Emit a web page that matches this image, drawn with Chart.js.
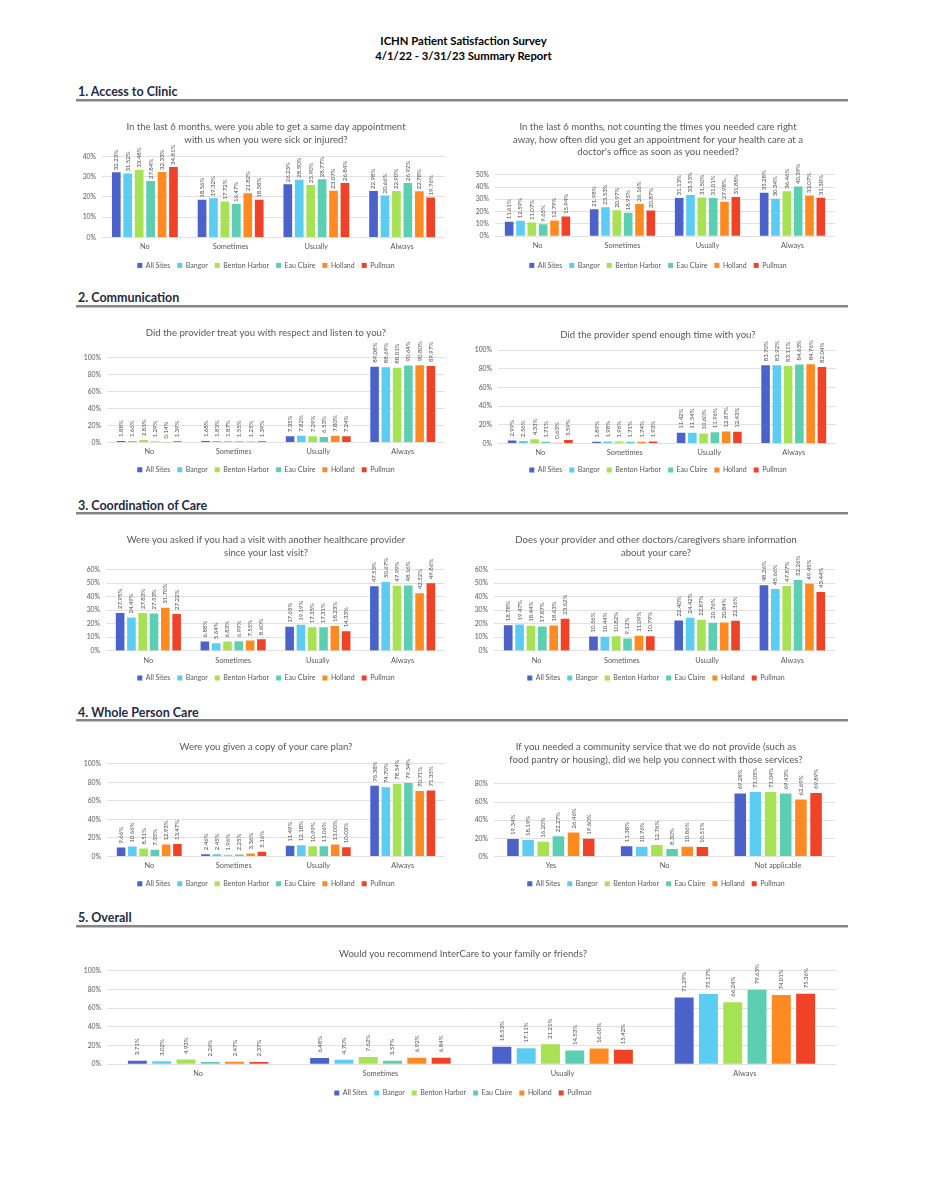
<!DOCTYPE html>
<html>
<head>
<meta charset="utf-8">
<title>ICHN Patient Satisfaction Survey</title>
<script src="https://cdn.jsdelivr.net/npm/chart.js@4.4.0/dist/chart.umd.min.js"></script>
<style>
body { margin: 0; background: #fff; font-family: Lato, "Open Sans", sans-serif; }
#page { position: relative; width: 927px; height: 1200px; overflow: hidden; }
.hdr { position: absolute; left: 0; width: 927px; text-align: center; font-weight: bold; font-size: 11.3px; line-height: 14px; color: #000; }
.sec { position: absolute; left: 78px; font-weight: bold; font-size: 12.5px; line-height: 16px; color: #1f2a44; }
.rule { position: absolute; left: 76px; width: 772px; height: 2px; background: #858585; border-bottom: 1px solid #c4c4c4; }
.box { position: absolute; }
</style>
</head>
<body>
<div id="page">
  <div class="hdr" style="top:34px">ICHN Patient Satisfaction Survey</div>
  <div class="hdr" style="top:49px">4/1/22 - 3/31/23 Summary Report</div>

  <div class="sec" style="top:84px">1. Access to Clinic</div>
  <div class="rule" style="top:99px"></div>
  <div class="sec" style="top:290px">2. Communication</div>
  <div class="rule" style="top:305px"></div>
  <div class="sec" style="top:498px">3. Coordination of Care</div>
  <div class="rule" style="top:512px"></div>
  <div class="sec" style="top:705px">4. Whole Person Care</div>
  <div class="rule" style="top:719px"></div>
  <div class="sec" style="top:910px">5. Overall</div>
  <div class="rule" style="top:925px"></div>
</div>
<script>
// sites and colours
const sites = ['All Sites', 'Bangor', 'Benton Harbor', 'Eau Claire', 'Holland', 'Pullman'];
const siteColors = ['#4a62c9', '#5bcdf2', '#a7e254', '#5ccfb2', '#ff8a22', '#ef4226'];

const freqCats = ['No', 'Sometimes', 'Usually', 'Always'];
const serviceCats = ['Yes', 'No', 'Not applicable'];

// values in %, one row per site, one column per category
const sameDayVals = [
  [32.23, 18.56, 26.23, 22.98],
  [31.52, 19.32, 28.50, 20.66],
  [33.48, 17.72, 25.90, 22.90],
  [27.84, 16.47, 28.77, 26.92],
  [32.33, 21.82, 23.07, 22.78],
  [34.81, 18.58, 26.84, 19.76]
];
const routineVals = [
  [11.61, 21.98, 31.13, 35.28],
  [12.59, 23.53, 33.53, 30.34],
  [11.07, 20.97, 31.50, 36.46],
  [9.65, 18.95, 31.01, 40.39],
  [12.79, 26.16, 27.98, 33.07],
  [15.94, 20.87, 31.88, 31.30]
];
const respectVals = [
  [1.88, 1.68, 7.35, 89.08],
  [1.66, 1.83, 7.82, 88.69],
  [2.83, 1.87, 7.29, 88.01],
  [1.29, 1.55, 6.53, 90.64],
  [0.14, 1.25, 7.80, 90.80],
  [1.39, 1.39, 7.24, 89.97]
];
const timeVals = [
  [2.99, 1.89, 11.42, 83.70],
  [2.56, 1.98, 11.54, 83.92],
  [4.33, 1.96, 10.60, 83.11],
  [1.71, 1.71, 11.96, 84.63],
  [0.63, 1.74, 12.87, 84.76],
  [3.59, 1.93, 12.43, 82.04]
];
const otherVisitVals = [
  [27.95, 6.88, 17.65, 47.53],
  [24.49, 5.64, 19.19, 50.67],
  [27.83, 6.83, 17.35, 47.99],
  [27.53, 6.99, 17.31, 48.16],
  [31.70, 7.55, 18.23, 42.52],
  [27.22, 8.60, 14.33, 49.86]
];
const shareInfoVals = [
  [18.78, 10.56, 22.40, 48.26],
  [19.47, 10.44, 24.42, 45.66],
  [18.44, 10.82, 22.87, 47.87],
  [17.87, 9.12, 20.76, 52.26],
  [18.63, 11.09, 20.84, 49.45],
  [23.62, 10.79, 22.16, 43.44]
];
const carePlanVals = [
  [9.66, 2.46, 11.49, 76.38],
  [10.66, 2.45, 12.18, 74.70],
  [8.51, 1.96, 10.99, 78.54],
  [7.35, 2.25, 11.06, 79.34],
  [12.93, 3.36, 13.00, 70.71],
  [13.47, 5.16, 10.03, 71.35]
];
const serviceVals = [
  [19.34, 11.38, 69.28],
  [18.19, 10.76, 71.05],
  [16.20, 12.76, 71.04],
  [22.27, 8.30, 69.43],
  [26.46, 10.86, 62.69],
  [19.60, 10.51, 69.89]
];
const recommendVals = [
  [3.71, 6.48, 18.53, 71.29],
  [3.02, 4.70, 17.11, 75.17],
  [4.93, 7.62, 21.21, 66.24],
  [2.26, 3.57, 14.53, 79.63],
  [2.47, 6.92, 16.60, 74.01],
  [2.37, 6.84, 15.42, 75.36]
];

// rotated value labels above each bar
const barLabels = {
  id: 'barLabels',
  afterDatasetsDraw(chart, args, opts) {
    const ctx = chart.ctx;
    ctx.save();
    ctx.font = opts.size + 'px Lato';
    ctx.fillStyle = '#4d4d4d';
    ctx.textAlign = 'left';
    ctx.textBaseline = 'middle';
    chart.data.datasets.forEach((ds, i) => {
      chart.getDatasetMeta(i).data.forEach((bar, j) => {
        ctx.save();
        ctx.translate(bar.x, bar.y - opts.gap);
        ctx.rotate(-Math.PI / 2);
        ctx.fillText(ds.data[j].toFixed(2) + '%', 0, 0);
        ctx.restore();
      });
    });
    ctx.restore();
  }
};

const TITLE_SIZE = 9.6, TITLE_LH = 1.28;
const LEG_SIZE = 7, LEG_PAD = 7;

function buildChart(spec) {
  const lineH = TITLE_SIZE * TITLE_LH;
  const cTop = spec.titleY - lineH / 2 - 6;
  const cBottom = spec.legendY + 11 + LEG_SIZE / 2;
  const cLeft = spec.l - 30;
  const cRight = 2 * spec.cx - cLeft;   // keeps title and legend centred on cx
  const legendTop = cBottom - (LEG_SIZE + LEG_PAD + 10);

  const box = document.createElement('div');
  box.className = 'box';
  box.style.left = cLeft + 'px';
  box.style.top = cTop + 'px';
  box.style.width = (cRight - cLeft) + 'px';
  box.style.height = (cBottom - cTop) + 'px';
  const cv = document.createElement('canvas');
  box.appendChild(cv);
  document.getElementById('page').appendChild(box);

  new Chart(cv, {
    type: 'bar',
    data: {
      labels: spec.cats,
      datasets: sites.map((s, i) => ({
        label: s,
        data: spec.vals[i],
        backgroundColor: siteColors[i],
        borderWidth: 0
      }))
    },
    options: {
      responsive: true,
      maintainAspectRatio: false,
      animation: false,
      layout: { padding: 0 },
      datasets: { bar: { categoryPercentage: 0.8, barPercentage: spec.bp || 0.76 } },
      scales: {
        x: {
          grid: { display: false, drawTicks: false },
          border: { display: false },
          ticks: { color: '#595959', font: { family: 'Lato', size: 7.4 }, padding: 5, maxRotation: 0, autoSkip: false },
          afterFit: a => { a.height = legendTop - spec.b; }
        },
        y: {
          min: 0,
          max: spec.max,
          grid: { color: '#d9d9d9', lineWidth: 0.8, drawTicks: false },
          border: { display: false },
          ticks: { stepSize: spec.step, color: '#595959', font: { family: 'Lato', size: 6.8 }, padding: 6, callback: v => v + '%' },
          afterFit: a => { a.width = spec.l - cLeft; }
        },
        // empty right-hand spacer so the plot ends where the original does
        spacer: {
          type: 'linear',
          position: 'right',
          grid: { display: false, drawTicks: false },
          border: { display: false },
          ticks: { display: false },
          afterFit: a => { a.width = cRight - spec.r; }
        }
      },
      plugins: {
        title: {
          display: true,
          text: spec.title,
          color: '#595959',
          font: { family: 'Lato', size: TITLE_SIZE, lineHeight: TITLE_LH, weight: 'normal' },
          padding: { top: 6, bottom: spec.t - (cTop + 6 + spec.title.length * lineH) }
        },
        legend: {
          position: 'bottom',
          labels: { boxWidth: 5, boxHeight: 5, padding: LEG_PAD, color: '#595959', font: { family: 'Lato', size: LEG_SIZE } }
        },
        tooltip: { enabled: false },
        barLabels: { size: 6, gap: spec.gap }
      }
    },
    plugins: [barLabels]
  });
}

buildChart({
  title: ['In the last 6 months, were you able to get a same day appointment', 'with us when you were sick or injured?'],
  cats: freqCats, vals: sameDayVals, max: 40, step: 10,
  l: 102, r: 445, t: 156, b: 237, titleY: 126.7, legendY: 264, cx: 266, gap: 2
});
buildChart({
  title: ['In the last 6 months, not counting the times you needed care right', 'away, how often did you get an appointment for your health care at a', "doctor's office as soon as you needed?"],
  cats: freqCats, vals: routineVals, max: 50, step: 10,
  l: 495, r: 835, t: 174.3, b: 235.7, titleY: 126.7, legendY: 264, cx: 658, gap: 2.5
});
buildChart({
  title: ['Did the provider treat you with respect and listen to you?'],
  cats: freqCats, vals: respectVals, max: 100, step: 20,
  l: 107, r: 445, t: 357.7, b: 442.7, titleY: 333.3, legendY: 469, cx: 266, gap: 4
});
buildChart({
  title: ['Did the provider spend enough time with you?'],
  cats: freqCats, vals: timeVals, max: 100, step: 20,
  l: 498, r: 836, t: 350, b: 443.3, titleY: 335, legendY: 469, cx: 658, gap: 4
});
buildChart({
  title: ['Were you asked if you had a visit with another healthcare provider', 'since your last visit?'],
  cats: freqCats, vals: otherVisitVals, max: 60, step: 10,
  l: 106, r: 445, t: 569.3, b: 650.7, titleY: 540, legendY: 677, cx: 266, gap: 4
});
buildChart({
  title: ['Does your provider and other doctors/caregivers share information', 'about your care?'],
  cats: freqCats, vals: shareInfoVals, max: 60, step: 10,
  l: 494, r: 835, t: 569.3, b: 650.7, titleY: 540, legendY: 677, cx: 656, gap: 4
});
buildChart({
  title: ['Were you given a copy of your care plan?'],
  cats: freqCats, vals: carePlanVals, max: 100, step: 20,
  l: 107, r: 445, t: 764, b: 856.7, titleY: 747.3, legendY: 883, cx: 266, gap: 4
});
buildChart({
  title: ['If you needed a community service that we do not provide (such as', 'food pantry or housing), did we help you connect with those services?'],
  cats: serviceCats, vals: serviceVals, max: 80, step: 20,
  l: 494, r: 835, t: 784, b: 856.7, titleY: 747.3, legendY: 883, cx: 656, gap: 4
});
buildChart({
  title: ['Would you recommend InterCare to your family or friends?'],
  cats: freqCats, vals: recommendVals, max: 100, step: 20,
  l: 107, r: 836, t: 970.7, b: 1064, titleY: 954, legendY: 1092, cx: 463, gap: 5.5, bp: 0.78
});
</script>
</body>
</html>
